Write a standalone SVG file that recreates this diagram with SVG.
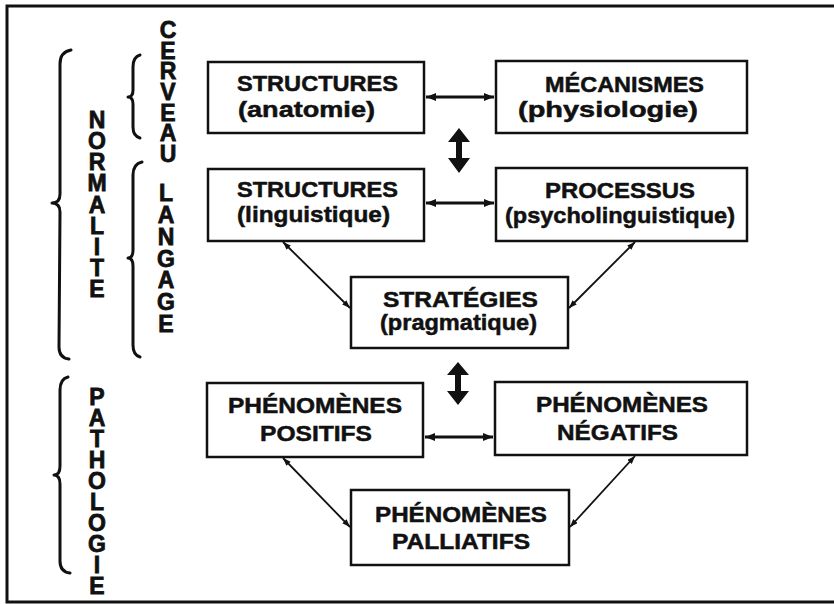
<svg xmlns="http://www.w3.org/2000/svg" width="834" height="604" viewBox="0 0 834 604">
  <style>
    .frame { fill: none; stroke: #111; stroke-width: 3; }
    .box { fill: #fff; stroke: #111; stroke-width: 2.5; }
    .lbl { font-family: "Liberation Sans", Arial, sans-serif; font-weight: bold; font-size: 22px; fill: #111; stroke: #111; stroke-width: 0.5; }
    .vert { font-family: "Liberation Sans", Arial, sans-serif; font-weight: bold; font-size: 23px; fill: #111; stroke: #111; stroke-width: 0.8; writing-mode: vertical-rl; text-orientation: upright; }
    .brace { fill: none; stroke: #111; stroke-width: 3; stroke-linecap: round; stroke-linejoin: round; }
    .link { fill: none; stroke: #111; stroke-width: 2.8; }
    .diag { fill: none; stroke: #111; stroke-width: 1.8; }
    .big { fill: #111; }
  </style>
  <defs>
    <marker id="head" viewBox="0 0 10 8" refX="10" refY="4" markerWidth="10" markerHeight="8" markerUnits="userSpaceOnUse" orient="auto-start-reverse">
      <path d="M0,0 L10,4 L0,8 Z" fill="#111"/>
    </marker>
    <marker id="tip" viewBox="0 0 8 6" refX="8" refY="3" markerWidth="8" markerHeight="6" markerUnits="userSpaceOnUse" orient="auto-start-reverse">
      <path d="M0,0 L8,3 L0,6 Z" fill="#111"/>
    </marker>
  </defs>

  <rect class="frame" x="7" y="6" width="840" height="596"/>

  <!-- side braces and their vertical labels -->
  <g id="normalite">
    <path class="brace" d="M71,50 Q60,52 60,64 L60,194 Q60,203 52,203 Q60,203 60,212 L59,347 Q59,358 69,359"/>
    <text class="vert" x="97" y="107" textLength="195" lengthAdjust="spacing">NORMALITE</text>
  </g>
  <g id="cerveau">
    <path class="brace" d="M140,55 Q133,57 133,67 L133,90 Q133,97 128,97 Q133,97 133,104 L133,127 Q133,136 140,138"/>
    <text class="vert" x="168" y="17" textLength="150" lengthAdjust="spacing">CERVEAU</text>
  </g>
  <g id="langage">
    <path class="brace" d="M142,162 Q133,164 133,175 L133,250 Q133,258 128,258 Q133,258 133,266 L133,345 Q133,355 140,357"/>
    <text class="vert" x="166" y="180" textLength="157" lengthAdjust="spacing">LANGAGE</text>
  </g>
  <g id="pathologie">
    <path class="brace" d="M68,377 Q60,379 60,390 L60,466 Q60,475 54,475 Q60,475 60,484 L60,561 Q60,572 70,573"/>
    <text class="vert" x="97" y="384" textLength="215" lengthAdjust="spacing">PATHOLOGIE</text>
  </g>

  <!-- connectors -->
  <g id="connectors">
    <line class="link" x1="426" y1="97" x2="494" y2="97" marker-start="url(#head)" marker-end="url(#head)"/>
    <line class="link" x1="426" y1="203" x2="494" y2="203" marker-start="url(#head)" marker-end="url(#head)"/>
    <line class="link" x1="425" y1="437" x2="493" y2="437" marker-start="url(#head)" marker-end="url(#head)"/>
    <line class="diag" x1="283" y1="242" x2="350" y2="308" marker-start="url(#tip)" marker-end="url(#tip)"/>
    <line class="diag" x1="635" y1="242" x2="569" y2="308" marker-start="url(#tip)" marker-end="url(#tip)"/>
    <line class="diag" x1="283" y1="458" x2="350" y2="527" marker-start="url(#tip)" marker-end="url(#tip)"/>
    <line class="diag" x1="635" y1="456" x2="570" y2="527" marker-start="url(#tip)" marker-end="url(#tip)"/>
    <path class="big" d="M459,128 L470,142 L462,142 L462,158 L470,158 L459,173 L448,158 L456,158 L456,142 L448,142 Z"/>
    <path class="big" d="M458,362 L469,375 L461,375 L461,391 L469,391 L458,405 L447,391 L455,391 L455,375 L447,375 Z"/>
  </g>

  <!-- boxes -->
  <g id="structures-anatomie">
    <rect class="box" x="208" y="62" width="216" height="71"/>
    <text class="lbl" x="237" y="91" textLength="161" lengthAdjust="spacingAndGlyphs">STRUCTURES</text>
    <text class="lbl" x="238" y="117" textLength="137" lengthAdjust="spacingAndGlyphs">(anatomie)</text>
  </g>
  <g id="mecanismes">
    <rect class="box" x="496" y="61" width="251" height="72"/>
    <text class="lbl" x="545" y="92" textLength="159" lengthAdjust="spacingAndGlyphs">MÉCANISMES</text>
    <text class="lbl" x="518" y="117" textLength="180" lengthAdjust="spacingAndGlyphs">(physiologie)</text>
  </g>
  <g id="structures-linguistique">
    <rect class="box" x="208" y="169" width="216" height="72"/>
    <text class="lbl" x="237" y="197" textLength="161" lengthAdjust="spacingAndGlyphs">STRUCTURES</text>
    <text class="lbl" x="237" y="222" textLength="153" lengthAdjust="spacingAndGlyphs">(linguistique)</text>
  </g>
  <g id="processus">
    <rect class="box" x="496" y="168" width="251" height="73"/>
    <text class="lbl" x="545" y="198" textLength="150" lengthAdjust="spacingAndGlyphs">PROCESSUS</text>
    <text class="lbl" x="505" y="223" textLength="230" lengthAdjust="spacingAndGlyphs">(psycholinguistique)</text>
  </g>
  <g id="strategies">
    <rect class="box" x="351" y="277" width="217" height="71"/>
    <text class="lbl" x="383" y="307" textLength="155" lengthAdjust="spacingAndGlyphs">STRATÉGIES</text>
    <text class="lbl" x="380" y="330" textLength="157" lengthAdjust="spacingAndGlyphs">(pragmatique)</text>
  </g>
  <g id="phenomenes-positifs">
    <rect class="box" x="207" y="383" width="216" height="74"/>
    <text class="lbl" x="228" y="413" textLength="174" lengthAdjust="spacingAndGlyphs">PHÉNOMÈNES</text>
    <text class="lbl" x="260" y="441" textLength="112" lengthAdjust="spacingAndGlyphs">POSITIFS</text>
  </g>
  <g id="phenomenes-negatifs">
    <rect class="box" x="495" y="382" width="252" height="73"/>
    <text class="lbl" x="536" y="412" textLength="172" lengthAdjust="spacingAndGlyphs">PHÉNOMÈNES</text>
    <text class="lbl" x="557" y="440" textLength="121" lengthAdjust="spacingAndGlyphs">NÉGATIFS</text>
  </g>
  <g id="phenomenes-palliatifs">
    <rect class="box" x="351" y="490" width="218" height="75"/>
    <text class="lbl" x="375" y="522" textLength="172" lengthAdjust="spacingAndGlyphs">PHÉNOMÈNES</text>
    <text class="lbl" x="392" y="549" textLength="138" lengthAdjust="spacingAndGlyphs">PALLIATIFS</text>
  </g>
</svg>
